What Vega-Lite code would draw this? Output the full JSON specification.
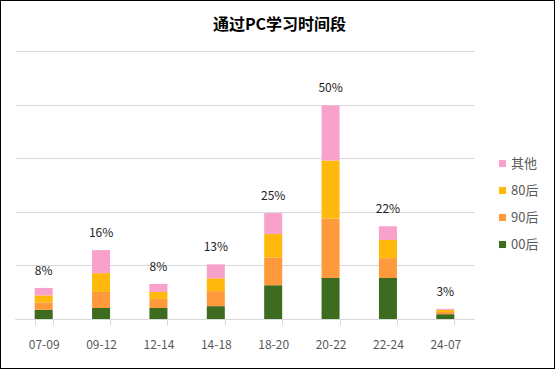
{
  "$schema": "https://vega.github.io/schema/vega-lite/v6.json",
  "width": 555,
  "height": 369,
  "autosize": "none",
  "padding": 0,
  "background": "white",
  "config": {
    "view": {"stroke": "#000000", "strokeWidth": 2},
    "font": "Noto Sans CJK SC"
  },
  "title": {
    "text": "通过PC学习时间段",
    "fontSize": 16,
    "fontWeight": "bold",
    "color": "#000000",
    "anchor": "middle",
    "offset": -33,
    "dx": 2
  },
  "data": {
    "values": [
      {"time": "07-09", "series": "00后", "value": 1.7, "pct": "8%"},
      {"time": "07-09", "series": "90后", "value": 1.4, "pct": "8%"},
      {"time": "07-09", "series": "80后", "value": 1.3, "pct": "8%"},
      {"time": "07-09", "series": "其他", "value": 1.4, "pct": "8%"},
      {"time": "09-12", "series": "00后", "value": 2.05, "pct": "16%"},
      {"time": "09-12", "series": "90后", "value": 3.0, "pct": "16%"},
      {"time": "09-12", "series": "80后", "value": 3.5, "pct": "16%"},
      {"time": "09-12", "series": "其他", "value": 4.3, "pct": "16%"},
      {"time": "12-14", "series": "00后", "value": 2.05, "pct": "8%"},
      {"time": "12-14", "series": "90后", "value": 1.7, "pct": "8%"},
      {"time": "12-14", "series": "80后", "value": 1.3, "pct": "8%"},
      {"time": "12-14", "series": "其他", "value": 1.5, "pct": "8%"},
      {"time": "14-18", "series": "00后", "value": 2.4, "pct": "13%"},
      {"time": "14-18", "series": "90后", "value": 2.8, "pct": "13%"},
      {"time": "14-18", "series": "80后", "value": 2.4, "pct": "13%"},
      {"time": "14-18", "series": "其他", "value": 2.6, "pct": "13%"},
      {"time": "18-20", "series": "00后", "value": 6.3, "pct": "25%"},
      {"time": "18-20", "series": "90后", "value": 5.2, "pct": "25%"},
      {"time": "18-20", "series": "80后", "value": 4.35, "pct": "25%"},
      {"time": "18-20", "series": "其他", "value": 3.9, "pct": "25%"},
      {"time": "20-22", "series": "00后", "value": 7.65, "pct": "50%"},
      {"time": "20-22", "series": "90后", "value": 11.1, "pct": "50%"},
      {"time": "20-22", "series": "80后", "value": 10.8, "pct": "50%"},
      {"time": "20-22", "series": "其他", "value": 10.3, "pct": "50%"},
      {"time": "22-24", "series": "00后", "value": 7.65, "pct": "22%"},
      {"time": "22-24", "series": "90后", "value": 3.7, "pct": "22%"},
      {"time": "22-24", "series": "80后", "value": 3.4, "pct": "22%"},
      {"time": "22-24", "series": "其他", "value": 2.55, "pct": "22%"},
      {"time": "24-07", "series": "00后", "value": 0.9, "pct": "3%"},
      {"time": "24-07", "series": "90后", "value": 0.4, "pct": "3%"},
      {"time": "24-07", "series": "80后", "value": 0.4, "pct": "3%"},
      {"time": "24-07", "series": "其他", "value": 0.2, "pct": "3%"}
    ]
  },
  "transform": [
    {"calculate": "indexof(['00后','90后','80后','其他'], datum.series)", "as": "k"}
  ],
  "encoding": {
    "x": {
      "field": "time",
      "type": "nominal",
      "sort": null,
      "title": null,
      "scale": {"range": [15, 474], "paddingInner": 0.686, "paddingOuter": 0.343},
      "axis": {
        "tickBand": "extent",
        "offset": -50,
        "domainColor": "#d9d9d9",
        "tickColor": "#d9d9d9",
        "tickSize": 6,
        "labelAngle": 0,
        "labelFontSize": 12,
        "labelColor": "#595959",
        "labelPadding": 14,
        "grid": false
      }
    }
  },
  "layer": [
    {
      "mark": {"type": "bar"},
      "encoding": {
        "y": {
          "field": "value",
          "type": "quantitative",
          "stack": "zero",
          "title": null,
          "scale": {"domain": [0, 50], "range": [319, 51], "nice": false},
          "axis": {
            "values": [0, 10, 20, 30, 40, 50],
            "labels": false,
            "ticks": false,
            "domain": false,
            "grid": true,
            "gridColor": "#d9d9d9",
            "gridWidth": 1
          }
        },
        "color": {
          "field": "series",
          "type": "nominal",
          "scale": {
            "domain": ["其他", "80后", "90后", "00后"],
            "range": ["#F7A1CB", "#FFB90C", "#FF9A3C", "#3D6B1F"]
          },
          "legend": {
            "title": null,
            "orient": "none",
            "legendX": 496,
            "legendY": 157,
            "symbolType": "square",
            "symbolSize": 50,
            "symbolStrokeWidth": 0,
            "labelFontSize": 13,
            "labelColor": "#595959",
            "labelOffset": 2,
            "rowPadding": 13,
            "padding": 0
          }
        },
        "order": {"field": "k", "type": "quantitative"}
      }
    },
    {
      "mark": {"type": "text", "fontSize": 12, "color": "#222222", "dy": -17, "baseline": "middle"},
      "encoding": {
        "y": {"aggregate": "sum", "field": "value", "type": "quantitative"},
        "text": {"field": "pct", "type": "nominal"}
      }
    }
  ]
}
